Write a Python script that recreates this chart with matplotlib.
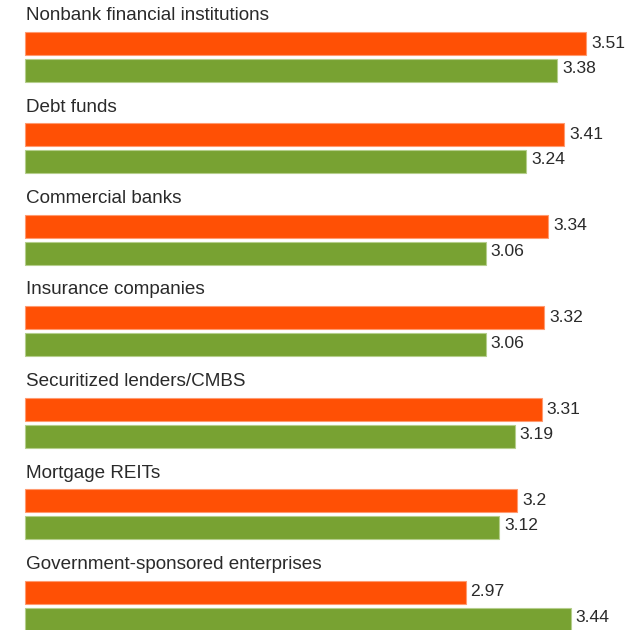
import matplotlib
matplotlib.use("Agg")
import matplotlib.pyplot as plt
import numpy as np

categories = [
    "Nonbank financial institutions",
    "Debt funds",
    "Commercial banks",
    "Insurance companies",
    "Securitized lenders/CMBS",
    "Mortgage REITs",
    "Government-sponsored enterprises",
]
orange_vals = [3.51, 3.41, 3.34, 3.32, 3.31, 3.2, 2.97]
green_vals = [3.38, 3.24, 3.06, 3.06, 3.19, 3.12, 3.44]

ORANGE = "#FF5005"
GREEN = "#78A232"
TEXT = "#2a2a2a"
BASE = 1.0

plt.rcParams["font.family"] = ["Liberation Sans", "DejaVu Sans"]

fig = plt.figure(figsize=(6.29, 6.30), dpi=100)
ax = fig.add_axes([0, 0, 1, 1])

step = 91.5
idx = np.arange(len(categories))
y_lab = 15.5 + step * idx
y_or = 43 + step * idx
y_gr = 70 + step * idx

ax.barh(y_or, np.array(orange_vals) - BASE, left=BASE, height=23,
        color=ORANGE, edgecolor="#FF9A70", linewidth=0.8)
ax.barh(y_gr, np.array(green_vals) - BASE, left=BASE, height=23,
        color=GREEN, edgecolor="#B5CE8C", linewidth=0.8)

for i, cat in enumerate(categories):
    ax.text(BASE + 0.004, y_lab[i], cat, ha="left", va="center", fontsize=13.6, color=TEXT)
    ax.text(orange_vals[i] + 0.022, y_or[i], f"{orange_vals[i]:g}",
            ha="left", va="center", fontsize=12.6, color=TEXT)
    ax.text(green_vals[i] + 0.022, y_gr[i] - 1.5, f"{green_vals[i]:g}",
            ha="left", va="center", fontsize=12.6, color=TEXT)

ax.set_xlim(BASE - 25 / 223.7, BASE + 604 / 223.7)
ax.set_ylim(630, 0)
ax.axis("off")

fig.savefig("out.png", dpi=100, facecolor="white")
